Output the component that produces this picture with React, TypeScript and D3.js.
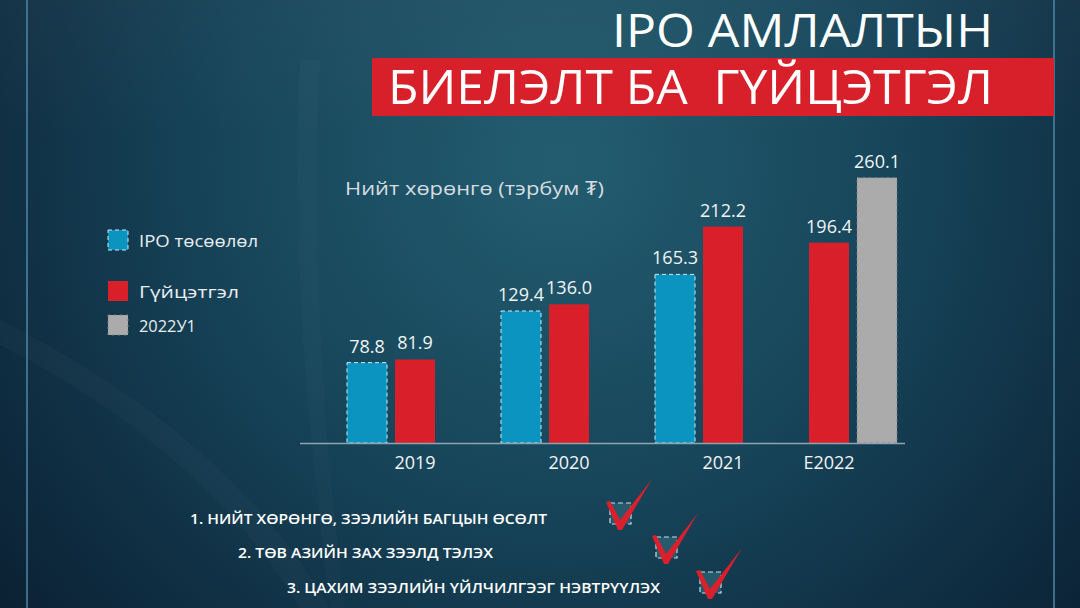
import React from 'react'
import * as d3 from 'd3'

// data
const groups = ['2019', '2020', '2021', 'E2022']
const seriesNames = ['IPO төсөөлөл', 'Гүйцэтгэл', '2022У1']
const ipoPlan: (number | null)[] = [78.8, 129.4, 165.3, null]
const actual: (number | null)[] = [81.9, 136.0, 212.2, 196.4]
const q1Result: (number | null)[] = [null, null, null, 260.1]
const goals = [
  '1. НИЙТ ХӨРӨНГӨ, ЗЭЭЛИЙН БАГЦЫН ӨСӨЛТ',
  '2. ТӨВ АЗИЙН ЗАХ ЗЭЭЛД ТЭЛЭХ',
  '3. ЦАХИМ ЗЭЭЛИЙН ҮЙЛЧИЛГЭЭГ НЭВТРҮҮЛЭХ',
]

const W = 1080
const H = 608
const FONT = "'Open Sans', 'Noto Sans', sans-serif"

const colors = ['#0b94bf', '#d81f2a', '#ababab']
const outlines = ['#cfe9f2', 'none', '#7c7c7c']
const dashes = ['4,3', '', '2,4']

const baseY = 443
const y = d3.scaleLinear().domain([0, 300]).range([baseY, baseY - 306])
const x = d3.scaleBand<string>()
  .domain(groups)
  .range([347, 347 + 3 * 154 + 88])
  .paddingInner(66 / 154)
  .paddingOuter(0)
const slot = d3.scaleBand<number>().domain([0, 1]).range([0, x.bandwidth()]).paddingInner(1 / 6)

const allSeries = [ipoPlan, actual, q1Result]

type Bar = { group: string; s: number; value: number; slot: number }
const bars: Bar[] = []
groups.forEach((g, gi) => {
  let k = 0
  allSeries.forEach((arr, s) => {
    const v = arr[gi]
    if (v != null) bars.push({ group: g, s, value: v, slot: k++ })
  })
})

// check mark shape, relative to the top-left of its box
const checkPath = 'M-4,-1 L0,-2 L10,17 L42,-24 L12,27 L8,27 Z'

export default function App() {
  const goalX = [190, 238, 287]
  const goalW = [357, 255, 373]
  const boxX = [610, 656, 700]
  const goalBase = [524, 558, 593]
  const legendY = [230, 281, 315]
  const legendW = [119, 100, 57]

  return (
    <svg width={W} height={H} viewBox={`0 0 ${W} ${H}`}
      style={{ position: 'absolute', left: 0, top: 0, display: 'block' }}
      fontFamily={FONT}>
      <defs>
        <radialGradient id="bg" cx="560" cy="160" r="720" gradientUnits="userSpaceOnUse">
          <stop offset="0" stopColor="#245d70" />
          <stop offset="0.45" stopColor="#17465b" />
          <stop offset="1" stopColor="#0b2033" />
        </radialGradient>
        <linearGradient id="streak" x1="0" y1="0" x2="0" y2="1">
          <stop offset="0" stopColor="#ffffff" stopOpacity="0.05" />
          <stop offset="1" stopColor="#ffffff" stopOpacity="0" />
        </linearGradient>
      </defs>
      <rect width={W} height={H} fill="url(#bg)" />
      <rect x={0} y={0} width={W} height={140} fill="url(#streak)" opacity={0.6} />
      {/* faint background swooshes */}
      <path d="M0,320 C120,380 250,470 330,608 L300,608 C230,490 110,400 0,345 Z" fill="#ffffff" opacity={0.025} />
      <path d="M300,60 C290,250 310,450 330,608 L345,608 C325,450 310,250 320,60 Z" fill="#ffffff" opacity={0.02} />
      <line x1={27} x2={27} y1={0} y2={H} stroke="#4f86a6" strokeWidth={1.5} />
      <line x1={1054} x2={1054} y1={0} y2={H} stroke="#4f86a6" strokeWidth={1.5} />

      {/* title */}
      <text x={993} y={47} textAnchor="end" fill="#ffffff" fontSize={45} fontWeight={500}
        textLength={381} lengthAdjust="spacingAndGlyphs">IPO АМЛАЛТЫН</text>
      <rect x={372} y={58} width={682} height={58} fill="#d8202b" />
      <text x={388} y={104} fill="#ffffff" fontSize={47} fontWeight={500}
        textLength={605} lengthAdjust="spacingAndGlyphs" style={{ whiteSpace: 'pre' }}>БИЕЛЭЛТ БА  ГҮЙЦЭТГЭЛ</text>

      {/* subtitle */}
      <text x={345} y={195} fill="#d5dde1" fontSize={19}
        textLength={259} lengthAdjust="spacingAndGlyphs">Нийт хөрөнгө (тэрбум ₮)</text>

      {/* legend */}
      {seriesNames.map((n, i) => (
        <g key={n}>
          <rect x={108} y={legendY[i]} width={20} height={20} fill={colors[i]}
            stroke={outlines[i]} strokeDasharray={dashes[i]} strokeWidth={1} />
          <text x={139} y={legendY[i] + 17} fill="#e8edf0" fontSize={17}
            textLength={legendW[i]} lengthAdjust="spacingAndGlyphs">{n}</text>
        </g>
      ))}

      {/* bars */}
      {bars.map(b => {
        const bx = (x(b.group) || 0) + (slot(b.slot) || 0)
        const by = y(b.value)
        return (
          <g key={b.group + b.s}>
            <rect x={bx} y={by} width={slot.bandwidth()} height={baseY - by} fill={colors[b.s]}
              stroke={outlines[b.s]} strokeDasharray={dashes[b.s]} strokeWidth={1} />
            <text x={bx + slot.bandwidth() / 2} y={by - 10} textAnchor="middle" fill="#f2f4f5"
              fontSize={18} fontWeight={500}>{d3.format('.1f')(b.value)}</text>
          </g>
        )
      })}
      <line x1={300} x2={905} y1={baseY + 0.5} y2={baseY + 0.5} stroke="#8ea4b0" strokeWidth={1.5} />
      {groups.map(g => {
        const b = bars.find(d => d.group === g && d.s === 1)!
        const cx = (x(g) || 0) + (slot(b.slot) || 0) + slot.bandwidth() / 2
        return (
          <text key={g} x={cx} y={469} textAnchor="middle" fill="#f2f4f5" fontSize={18} fontWeight={500}>{g}</text>
        )
      })}

      {/* goals list */}
      {goals.map((t, i) => (
        <g key={t}>
          <text x={goalX[i]} y={goalBase[i]} fill="#ffffff" fontSize={14.5} fontWeight={600}
            textLength={goalW[i]} lengthAdjust="spacingAndGlyphs">{t}</text>
          <rect x={boxX[i]} y={goalBase[i] - 21} width={21} height={21} fill="#2b6273" fillOpacity={0.8}
            stroke="#c9dde4" strokeDasharray="5,3" strokeWidth={1.2} />
          <path d={checkPath} transform={`translate(${boxX[i]},${goalBase[i] - 21})`} fill="#d9202c" />
        </g>
      ))}
    </svg>
  )
}
